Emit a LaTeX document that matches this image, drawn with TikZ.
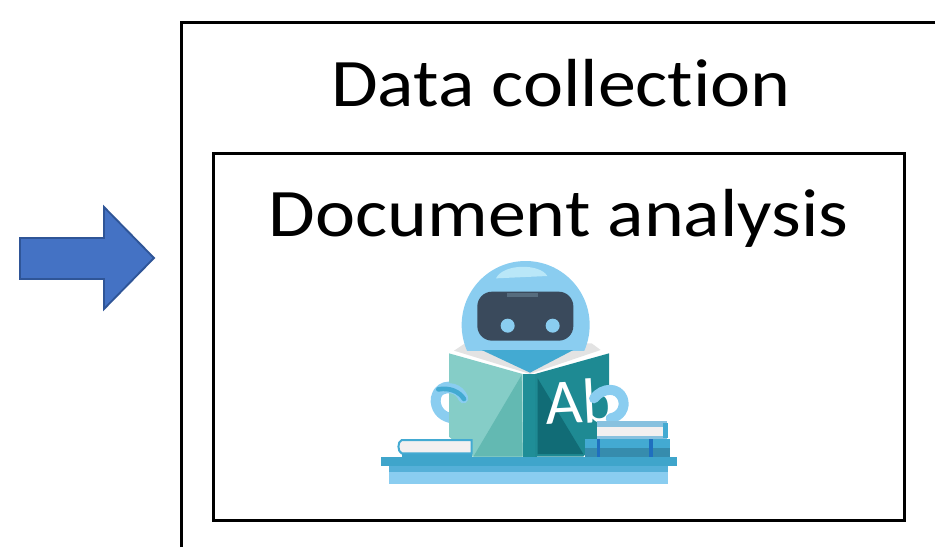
\documentclass[tikz,border=0pt]{standalone}
\usepackage{fontspec}
\setmainfont{Carlito}[Ligatures=NoCommon]
\definecolor{arrowfill}{HTML}{4472C4}
\definecolor{arrowedge}{HTML}{2F5597}
\definecolor{sky}{HTML}{8ACDF0}
\definecolor{skyhi}{HTML}{B9E7F8}
\definecolor{chin}{HTML}{43AAD2}
\definecolor{visor}{HTML}{3A4A5C}
\definecolor{visorhi}{HTML}{566C7E}
\definecolor{pagelight}{HTML}{85CDC7}
\definecolor{pagemid}{HTML}{63B9B2}
\definecolor{spine}{HTML}{1F8E97}
\definecolor{pagedark}{HTML}{1E8A93}
\definecolor{pagedeep}{HTML}{116C76}
\definecolor{paper}{HTML}{F3F0F0}
\definecolor{table}{HTML}{3FA5CB}
\definecolor{tablemid}{HTML}{55B0D8}
\definecolor{stripe}{HTML}{1F6FBF}
\tikzset{
  x=0.75pt,y=-0.75pt,
  frame/.style={draw=black,line width=2.25pt},
  title/.style={font=\fontsize{51}{62}\selectfont,text=black,inner sep=0pt,anchor=base,xscale=1.117},
  armline/.style={line width=7.5pt,line cap=round,color=sky},
  armcore/.style={line width=3.5pt,line cap=round,color=chin},
}
\begin{document}
\begin{tikzpicture}
\useasboundingbox (0,0) rectangle (935,547);
% arrow
\draw[fill=arrowfill,draw=arrowedge,line width=1.4pt]
  (20,238) -- (104,238) -- (104,207) -- (154,258) -- (104,309) -- (104,279) -- (20,279) -- cycle;
% frames
\draw[frame] (181,547) -- (181,22) -- (935,22);
\node[frame,inner sep=0pt,minimum width=518.25pt,minimum height=275.25pt] (inner) at (558.5,336.5) {};
\node[title] (outerlabel) at (561,106) {Data collection};
\node[title] (innerlabel) at (558.5,236) {Document analysis};
% robot, in zoomed coordinates
\begin{scope}[shift={(370,250)},x=0.25pt,y=-0.25pt]
  % page tops
  \fill[gray!22] (285,280) -- (252,302) -- (480,372) -- (692,300) -- (665,280) -- cycle;
  % head
  \begin{scope}
    \clip (250,20) rectangle (690,300);
    \fill[sky] (467,225) circle (192);
  \end{scope}
  \fill[skyhi] (378,85) .. controls (400,40) and (510,40) .. (532,78) -- cycle;
  \fill[visor,rounded corners=11pt] (322,125) rectangle (610,272);
  \fill[visorhi] (410,130) rectangle (505,140);
  \fill[sky] (413,227) circle (21);
  \fill[sky] (548,227) circle (21);
  \fill[chin] (335,300) -- (610,300) -- (480,368) -- cycle;
  % lower arm parts behind the book
  \draw[armline] (262,418) .. controls (225,395) and (195,425) .. (197,455) .. controls (200,485) and (220,500) .. (245,505);
  % book
  \fill[pagelight] (237,310) -- (458,372) -- (458,620) -- (305,620) -- (237,560) -- cycle;
  \fill[pagemid] (455,375) -- (458,620) -- (310,620) -- cycle;
  \fill[spine] (458,372) -- (500,372) -- (500,620) -- (458,620) -- cycle;
  \fill[pagedark] (495,372) -- (717,310) -- (717,525) -- (640,620) -- (495,620) -- cycle;
  \fill[pagedeep] (503,385) -- (640,612) -- (503,612) -- cycle;
  \begin{scope}
    \clip (495,372) -- (717,310) -- (717,525) -- (640,620) -- (495,620) -- cycle;
    \node[font=\fontsize{48}{56}\selectfont,text=white,inner sep=0pt,anchor=base west,rotate=3] (booktext) at (528,525) {Ab};
  \end{scope}
  % arms over the book
  \draw[armline] (280,445) .. controls (268,415) and (235,405) .. (205,425);
  \draw[armcore] (282,447) .. controls (268,425) and (240,412) .. (205,418);
  \draw[armline] (672,445) .. controls (700,410) and (745,412) .. (758,445) .. controls (768,475) and (750,500) .. (722,505);
  % table
  \fill[table] (32,620) rectangle (920,648);
  \fill[tablemid] (57,648) rectangle (893,666);
  \fill[sky] (57,666) rectangle (893,702);
  % left book
  \fill[table] (95,612) rectangle (305,620);
  \draw[draw=chin,fill=paper,line width=1.5pt] (305,570) -- (95,570) .. controls (82,575) and (82,605) .. (95,610) -- (305,610) -- cycle;
  % right books
  \fill[chin] (645,568) rectangle (900,620);
  \fill[table!85!black] (645,595) rectangle (900,620);
  \fill[stripe] (680,568) rectangle (690,620);
  \fill[stripe] (838,568) rectangle (848,620);
  \fill[sky!85!gray] (680,514) rectangle (890,568);
  \fill[paper] (682,530) rectangle (885,558);
  \fill[chin] (880,520) rectangle (893,565);
\end{scope}
\end{tikzpicture}
\end{document}
